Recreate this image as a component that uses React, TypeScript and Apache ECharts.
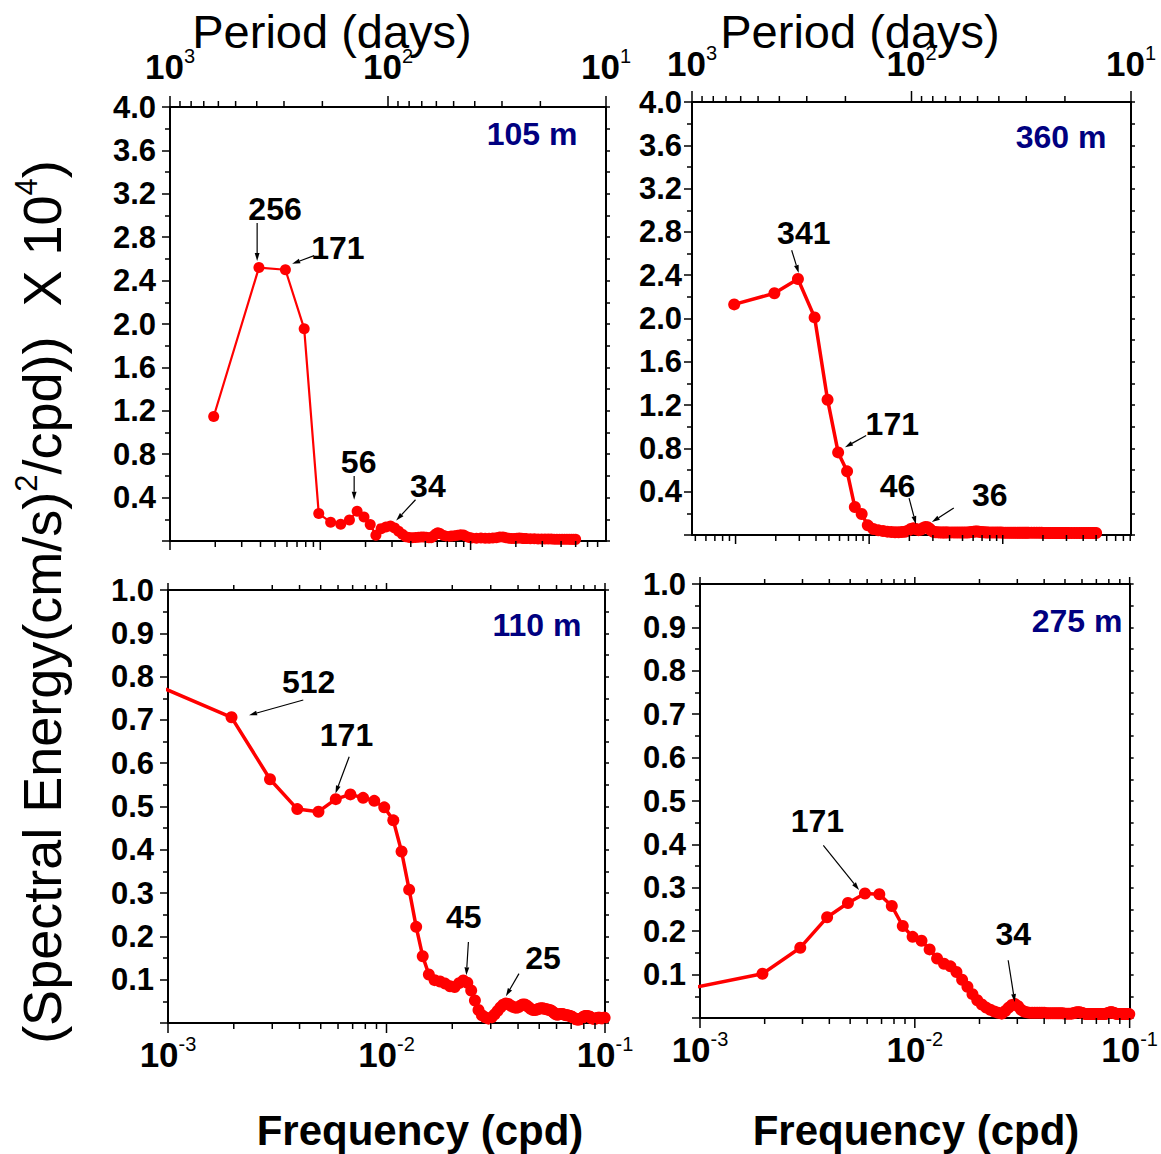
import React, { useEffect, useRef } from "react";
import * as echarts from "echarts";

// Spectral estimates at harmonics k of a 1024-day record: frequency = k / RECORD_DAYS (cpd)
const RECORD_DAYS = 1024;

// ---- 105 m (top-left) ----
const TL_K = [2, 4, 6, 8, 10, 12, 14, 16, 18, 20, 22, 24, 26, 28, 30, 32, 34, 36, 38, 40, 42, 44, 46, 48, 50, 52, 54, 56, 58, 60, 62, 64,
  68, 72, 76, 80, 84, 88, 92, 96, 100, 104,
  112, 120, 128, 136, 144, 152, 160, 168, 176, 184, 192, 200, 208, 216, 224, 232, 240,
  256, 272, 288, 304, 320, 336, 352, 368, 384, 400, 416, 432, 448, 464, 480, 496, 512];
const TL_E = [1.147, 2.52, 2.5, 1.957, 0.253, 0.173, 0.154, 0.194, 0.274, 0.222, 0.151, 0.052, 0.114, 0.13, 0.139, 0.12, 0.09, 0.062, 0.04, 0.032, 0.03, 0.032, 0.035, 0.037, 0.036, 0.034, 0.03, 0.03, 0.045, 0.065, 0.075, 0.068,
  0.05, 0.042, 0.045, 0.048, 0.052, 0.058, 0.055, 0.042, 0.033, 0.028,
  0.026, 0.027, 0.025, 0.026, 0.028, 0.03, 0.036, 0.038, 0.03, 0.025, 0.024, 0.023, 0.026, 0.028, 0.025, 0.022, 0.022,
  0.02, 0.02, 0.019, 0.019, 0.018, 0.018, 0.018, 0.017, 0.017, 0.017, 0.016, 0.016, 0.016, 0.016, 0.015, 0.015, 0.015];

// ---- 360 m (top-right) ----
const TR_K = [1, 2, 3, 4, 5, 6, 7, 8, 9, 10, 11, 12, 13, 14, 15, 16, 17, 18, 19, 20, 21, 22, 23, 24, 25, 26, 27, 28, 29, 30, 31, 32, 33, 34, 35, 36, 37, 38, 39, 40,
  42, 44, 46, 48, 50, 52, 54, 56, 58, 60, 62, 64, 66, 68, 70, 72, 74, 76, 78, 80,
  84, 88, 92, 96, 100, 104, 108, 112, 116, 120, 124, 128, 132, 136, 140, 144, 148, 152, 156, 160,
  168, 176, 184, 192, 200, 208, 216, 224, 232, 240, 248, 256, 264, 272, 280, 288, 296, 304, 312, 320,
  336, 352, 368, 384, 400, 416, 432, 448, 464, 480, 496, 512];
const TR_E = [2.13, 2.233, 2.365, 2.01, 1.25, 0.763, 0.588, 0.258, 0.194, 0.089, 0.055, 0.043, 0.037, 0.031, 0.028, 0.026, 0.026, 0.027, 0.03, 0.04, 0.055, 0.062, 0.055, 0.045, 0.05, 0.065, 0.075, 0.072, 0.058, 0.04, 0.03, 0.026,
  0.025, 0.024, 0.024, 0.023, 0.023, 0.023, 0.024, 0.024,
  0.024, 0.023, 0.023, 0.022, 0.022, 0.022, 0.022, 0.023, 0.025, 0.028, 0.03, 0.032, 0.033, 0.031, 0.028, 0.026, 0.025, 0.024, 0.024, 0.023,
  0.023, 0.022, 0.022, 0.022, 0.022, 0.021, 0.021, 0.021, 0.021, 0.021, 0.021, 0.021, 0.02, 0.02, 0.02, 0.02, 0.02, 0.02, 0.02, 0.02,
  0.02, 0.02, 0.02, 0.02, 0.02, 0.019, 0.019, 0.019, 0.019, 0.019, 0.019, 0.019, 0.019, 0.019, 0.019, 0.019, 0.019, 0.019, 0.019, 0.019,
  0.019, 0.019, 0.019, 0.019, 0.018, 0.018, 0.018, 0.018, 0.018, 0.018, 0.018, 0.018];

// ---- 110 m (bottom-left) and 275 m (bottom-right) share harmonics 1..102 ----
const BOTTOM_K = [1, 2, 3, 4, 5, 6, 7, 8, 9, 10, 11, 12, 13, 14, 15, 16, 17, 18, 19, 20, 21, 22, 23, 24, 25, 26, 27, 28, 29, 30,
  31, 32, 33, 34, 35, 36, 37, 38, 39, 40, 41, 42, 43, 44, 45, 46, 47, 48, 49, 50, 51, 52, 53, 54, 55, 56, 57, 58, 59, 60,
  61, 62, 63, 64, 65, 66, 67, 68, 69, 70, 71, 72, 73, 74, 75, 76, 77, 78, 79, 80, 81, 82, 83, 84, 85, 86, 87, 88, 89, 90,
  91, 92, 93, 94, 95, 96, 97, 98, 99, 100, 101, 102];
const BL_E = [0.771, 0.706, 0.563, 0.494, 0.488, 0.517, 0.528, 0.52, 0.513, 0.498, 0.468, 0.396, 0.308, 0.222, 0.154, 0.112, 0.099, 0.096, 0.091, 0.085, 0.083, 0.092, 0.098, 0.093, 0.075, 0.052, 0.03, 0.018, 0.013, 0.01, 0.013, 0.02,
  0.028, 0.036, 0.042, 0.045, 0.044, 0.04, 0.037, 0.035, 0.036, 0.04,
  0.043, 0.043, 0.04, 0.036, 0.032, 0.03, 0.03, 0.031, 0.033, 0.034,
  0.034, 0.033, 0.032, 0.031, 0.03, 0.029, 0.026, 0.023, 0.02, 0.019,
  0.02, 0.021, 0.021, 0.02, 0.019, 0.018, 0.018, 0.017, 0.016, 0.015,
  0.013, 0.011, 0.009, 0.008, 0.008, 0.008, 0.009, 0.011, 0.013, 0.015,
  0.016, 0.016, 0.016, 0.015, 0.015, 0.013, 0.011, 0.01, 0.01, 0.01,
  0.01, 0.011, 0.012, 0.012, 0.012, 0.011, 0.011, 0.011, 0.012, 0.012];
const BR_E = [0.072, 0.102, 0.162, 0.232, 0.265, 0.287, 0.285, 0.258, 0.212, 0.187, 0.178, 0.158, 0.137, 0.125, 0.119, 0.106, 0.088, 0.072, 0.055, 0.041, 0.031, 0.024, 0.019, 0.015, 0.012, 0.01, 0.016, 0.024, 0.03, 0.032, 0.027, 0.019, 0.015,
  0.013, 0.012, 0.012, 0.012, 0.012, 0.012, 0.012, 0.012, 0.011, 0.011,
  0.011, 0.011, 0.011, 0.011, 0.011, 0.011, 0.011, 0.01, 0.01, 0.01,
  0.01, 0.01, 0.011, 0.012, 0.013, 0.013, 0.013, 0.012, 0.011, 0.01,
  0.009, 0.009, 0.009, 0.009, 0.009, 0.009, 0.009, 0.009, 0.009, 0.009,
  0.009, 0.009, 0.009, 0.009, 0.009, 0.01, 0.01, 0.011, 0.012, 0.013,
  0.013, 0.013, 0.012, 0.011, 0.01, 0.01, 0.009, 0.009, 0.009, 0.009,
  0.009, 0.009, 0.009, 0.009, 0.009, 0.009, 0.009, 0.009, 0.009];

// Period annotations: text anchor, arrow start, arrow tip (frequency cpd, energy)
const TL_NOTES = [
  { text: "256", label: [5.0e-3, 3.06], from: [3.8e-3, 2.93], to: [3.8e-3, 2.58] },
  { text: "171", label: [1.31e-2, 2.7], from: [9.1e-3, 2.63], to: [6.5e-3, 2.555] },
  { text: "56", label: [1.8e-2, 0.73], from: [1.68e-2, 0.6], to: [1.68e-2, 0.38] },
  { text: "34", label: [5.2e-2, 0.51], from: [4.3e-2, 0.38], to: [3.2e-2, 0.19] },
];
const TR_NOTES = [
  { text: "341", label: [3.24e-3, 2.79], from: [2.63e-3, 2.63], to: [2.97e-3, 2.42] },
  { text: "171", label: [1.49e-2, 1.03], from: [9.5e-3, 0.92], to: [6.6e-3, 0.81] },
  { text: "46", label: [1.63e-2, 0.45], from: [1.99e-2, 0.34], to: [2.24e-2, 0.1] },
  { text: "36", label: [8.0e-2, 0.37], from: [4.3e-2, 0.25], to: [2.95e-2, 0.12] },
];
const BL_NOTES = [
  { text: "512", label: [4.4e-3, 0.788], from: [4.16e-3, 0.746], to: [2.35e-3, 0.711] },
  { text: "171", label: [6.56e-3, 0.665], from: [6.75e-3, 0.615], to: [5.84e-3, 0.53] },
  { text: "45", label: [2.26e-2, 0.245], from: [2.37e-2, 0.187], to: [2.32e-2, 0.11] },
  { text: "25", label: [5.2e-2, 0.149], from: [4.04e-2, 0.114], to: [3.52e-2, 0.062] },
];
const BR_NOTES = [
  { text: "171", label: [3.52e-3, 0.454], from: [3.75e-3, 0.398], to: [5.5e-3, 0.295] },
  { text: "34", label: [2.87e-2, 0.194], from: [2.72e-2, 0.133], to: [2.92e-2, 0.037] },
];

const DEPTHS = ["105 m", "360 m", "110 m", "275 m"];

// axis ranges
const TL_FREQ = [1e-3, 0.796];
const TR_FREQ = [4.72e-4, 0.912];
const BOTTOM_FREQ = [1e-3, 1e-1];
const PERIOD = [10, 1000];

const FONT = "'Liberation Sans', Arial, Helvetica, sans-serif";
const RED = "#ff0000";

function decadeTicks(min: number, max: number) {
  const out: number[][] = [];
  const e0 = Math.floor(Math.log10(min));
  const e1 = Math.ceil(Math.log10(max));
  for (let e = e0; e <= e1; e++) {
    for (let m = 1; m <= 9; m++) {
      const v = m * Math.pow(10, e);
      if (v >= min * (1 - 1e-9) && v <= max * (1 + 1e-9)) out.push([v, m === 1 ? 1 : 0]);
    }
  }
  return out;
}

function toPairs(ks: number[], es: number[]) {
  return ks.map((k, i) => [k / RECORD_DAYS, es[i]]);
}

function buildOption() {
  const grids = [
    { left: 170, top: 107, width: 436, height: 434 },
    { left: 692, top: 102, width: 439, height: 433 },
    { left: 168, top: 590, width: 437, height: 433 },
    { left: 700, top: 584, width: 437, height: 434 },
  ];
  const axisLine = { show: true, onZero: false, lineStyle: { color: "#000", width: 2 } };
  const tickStyle = { color: "#000", width: 1.5 };
  const rich = {
    b: { fontSize: 35, fontWeight: "bold", fontFamily: FONT, color: "#000", lineHeight: 40 },
    s: { fontSize: 20, fontFamily: FONT, color: "#000", verticalAlign: "top", lineHeight: 22 },
  };
  const expFormatter = (v: number) => `{b|10}{s|${Math.round(Math.log10(v))}}`;
  const noTick = { show: false };
  const noSplit = { show: false };

  const xAxis = [
    { gridIndex: 0, type: "log", position: "bottom", min: TL_FREQ[0], max: TL_FREQ[1], axisLine, axisTick: noTick, axisLabel: { show: false }, splitLine: noSplit },
    { gridIndex: 0, type: "log", position: "top", inverse: true, min: PERIOD[0], max: PERIOD[1], axisLine, axisTick: noTick, axisLabel: { show: true, interval: 0, showMinLabel: true, showMaxLabel: true, formatter: expFormatter, rich, margin: 21 }, splitLine: noSplit },
    { gridIndex: 1, type: "log", position: "bottom", min: TR_FREQ[0], max: TR_FREQ[1], axisLine, axisTick: noTick, axisLabel: { show: false }, splitLine: noSplit },
    { gridIndex: 1, type: "log", position: "top", inverse: true, min: PERIOD[0], max: PERIOD[1], axisLine, axisTick: noTick, axisLabel: { show: true, interval: 0, showMinLabel: true, showMaxLabel: true, formatter: expFormatter, rich, margin: 19 }, splitLine: noSplit },
    { gridIndex: 2, type: "log", position: "bottom", min: BOTTOM_FREQ[0], max: BOTTOM_FREQ[1], axisLine, axisTick: noTick, axisLabel: { show: true, interval: 0, showMinLabel: true, showMaxLabel: true, formatter: expFormatter, rich, margin: 11 }, splitLine: noSplit },
    { gridIndex: 2, type: "log", position: "top", min: BOTTOM_FREQ[0], max: BOTTOM_FREQ[1], axisLine, axisTick: noTick, axisLabel: { show: false }, splitLine: noSplit },
    { gridIndex: 3, type: "log", position: "bottom", min: BOTTOM_FREQ[0], max: BOTTOM_FREQ[1], axisLine, axisTick: noTick, axisLabel: { show: true, interval: 0, showMinLabel: true, showMaxLabel: true, formatter: expFormatter, rich, margin: 11 }, splitLine: noSplit },
    { gridIndex: 3, type: "log", position: "top", min: BOTTOM_FREQ[0], max: BOTTOM_FREQ[1], axisLine, axisTick: noTick, axisLabel: { show: false }, splitLine: noSplit },
  ];

  const yPair = (g: number, max: number, interval: number, margin: number) => [
    {
      gridIndex: g, type: "value", position: "left", min: 0, max, interval, axisLine,
      axisTick: { show: true, inside: false, length: 8, lineStyle: tickStyle },
      minorTick: { show: true, splitNumber: 2, length: 5, lineStyle: tickStyle },
      axisLabel: { formatter: (v: number) => (v === 0 ? "" : v.toFixed(1)), fontSize: 31, fontWeight: "bold", fontFamily: FONT, color: "#000", margin },
      splitLine: noSplit,
    },
    {
      gridIndex: g, type: "value", position: "right", min: 0, max, interval: interval / 2, axisLine,
      axisTick: { show: true, inside: false, length: 4, lineStyle: tickStyle },
      axisLabel: { show: false }, splitLine: noSplit,
    },
  ];
  const yAxis = [...yPair(0, 4, 0.4, 14), ...yPair(1, 4, 0.4, 10), ...yPair(2, 1, 0.1, 14), ...yPair(3, 1, 0.1, 14)];

  const lineSeries = (data: number[][], xi: number, yi: number, width: number, size: number) => ({
    type: "line", xAxisIndex: xi, yAxisIndex: yi, data, symbol: "circle", symbolSize: size,
    showSymbol: true, showAllSymbol: true, clip: true, z: 3,
    lineStyle: { color: RED, width }, itemStyle: { color: RED, borderWidth: 0 },
  });

  const tickSeries = (ticks: number[][], xi: number, yi: number, edgeY: number, dir: number, majorLen: number, minorLen: number) => ({
    type: "custom", xAxisIndex: xi, yAxisIndex: yi, silent: true, clip: false, z: 5,
    data: ticks.map(([v, major]) => [v, edgeY, major]),
    encode: { x: 0, y: 1 },
    renderItem: (params: any, api: any) => {
      const p = api.coord([api.value(0), api.value(1)]);
      const len = api.value(2) ? majorLen : minorLen;
      return { type: "line", shape: { x1: p[0], y1: p[1], x2: p[0], y2: p[1] + dir * len }, style: { stroke: "#000", lineWidth: 1.5 } };
    },
  });

  const noteSeries = (notes: any[], xi: number, yi: number) => ({
    type: "custom", xAxisIndex: xi, yAxisIndex: yi, silent: true, clip: false, z: 6,
    data: notes.map((n) => [n.label[0], n.label[1], n.from[0], n.from[1], n.to[0], n.to[1]]),
    encode: { x: 0, y: 1 },
    renderItem: (params: any, api: any) => {
      const note = notes[params.dataIndex];
      const t = api.coord([api.value(0), api.value(1)]);
      const a = api.coord([api.value(2), api.value(3)]);
      const b = api.coord([api.value(4), api.value(5)]);
      const dx = b[0] - a[0];
      const dy = b[1] - a[1];
      const len = Math.hypot(dx, dy) || 1;
      const ux = dx / len;
      const uy = dy / len;
      const head = 8;
      const half = 2.4;
      const bx = b[0] - ux * head;
      const by = b[1] - uy * head;
      return {
        type: "group",
        children: [
          { type: "line", shape: { x1: a[0], y1: a[1], x2: bx, y2: by }, style: { stroke: "#000", lineWidth: 1.2 } },
          { type: "polygon", shape: { points: [[b[0], b[1]], [bx - uy * half, by + ux * half], [bx + uy * half, by - ux * half]] }, style: { fill: "#000" } },
          {
            type: "text", x: t[0], y: t[1],
            style: { text: note.text, fill: "#000", fontSize: 32, fontWeight: "bold", fontFamily: FONT, align: "center", verticalAlign: "middle", textAlign: "center", textVerticalAlign: "middle" },
          },
        ],
      };
    },
  });

  const series = [
    lineSeries(toPairs(TL_K, TL_E), 0, 0, 2.2, 11),
    lineSeries(toPairs(TR_K, TR_E), 2, 2, 3.5, 12),
    lineSeries(toPairs(BOTTOM_K, BL_E), 4, 4, 3.5, 12),
    lineSeries(toPairs(BOTTOM_K, BR_E), 6, 6, 3.5, 12),
    // axis minor/major ticks on logarithmic axes
    tickSeries(decadeTicks(TL_FREQ[0], TL_FREQ[1]), 0, 0, 0, 1, 9, 6),
    tickSeries(decadeTicks(PERIOD[0], PERIOD[1]), 1, 0, 4, -1, 11, 6),
    tickSeries(decadeTicks(TR_FREQ[0], TR_FREQ[1]), 2, 2, 0, 1, 9, 6),
    tickSeries(decadeTicks(PERIOD[0], PERIOD[1]), 3, 2, 4, -1, 11, 6),
    tickSeries(decadeTicks(BOTTOM_FREQ[0], BOTTOM_FREQ[1]), 4, 4, 0, 1, 10, 6),
    tickSeries(decadeTicks(BOTTOM_FREQ[0], BOTTOM_FREQ[1]), 4, 4, 1, -1, 7, 5),
    tickSeries(decadeTicks(BOTTOM_FREQ[0], BOTTOM_FREQ[1]), 6, 6, 0, 1, 10, 6),
    tickSeries(decadeTicks(BOTTOM_FREQ[0], BOTTOM_FREQ[1]), 6, 6, 1, -1, 7, 5),
    noteSeries(TL_NOTES, 0, 0),
    noteSeries(TR_NOTES, 2, 2),
    noteSeries(BL_NOTES, 4, 4),
    noteSeries(BR_NOTES, 6, 6),
  ];

  const txt = (x: number, y: number, text: string, extra: any) => ({
    type: "text", x, y, silent: true, z: 10,
    style: { text, fill: "#000", fontFamily: FONT, align: "center", verticalAlign: "middle", textAlign: "center", textVerticalAlign: "middle", ...extra },
  });
  const depthStyle = { fill: "#000080", fontSize: 32, fontWeight: "bold" };

  const graphic = [
    txt(332, 31, "Period (days)", { fontSize: 47 }),
    txt(860, 31, "Period (days)", { fontSize: 47 }),
    txt(420, 1130, "Frequency (cpd)", { fontSize: 42, fontWeight: "bold" }),
    txt(916, 1130, "Frequency (cpd)", { fontSize: 42, fontWeight: "bold" }),
    txt(532, 134, DEPTHS[0], depthStyle),
    txt(1061, 137, DEPTHS[1], depthStyle),
    txt(537, 625, DEPTHS[2], depthStyle),
    txt(1077, 621, DEPTHS[3], depthStyle),
    {
      type: "text", x: 42, y: 602, rotation: Math.PI / 2, silent: true, z: 10,
      style: {
        text: "{a|(Spectral Energy(cm/s)}{s|2}{a|/cpd))  X 10}{s|4}{a|)}",
        align: "center", verticalAlign: "middle", textAlign: "center", textVerticalAlign: "middle",
        rich: {
          a: { fontSize: 54, fontFamily: FONT, fill: "#000", color: "#000", lineHeight: 62 },
          s: { fontSize: 31, fontFamily: FONT, fill: "#000", color: "#000", verticalAlign: "top", lineHeight: 32 },
        },
      },
    },
  ];

  return {
    animation: false,
    backgroundColor: "#ffffff",
    grid: grids,
    xAxis,
    yAxis,
    series,
    graphic,
  };
}

export default function App() {
  const ref = useRef<HTMLDivElement>(null);
  useEffect(() => {
    document.body.style.margin = "0";
    if (!ref.current) return;
    const chart = echarts.init(ref.current, undefined, { renderer: "svg" });
    chart.setOption(buildOption() as any);
    return () => chart.dispose();
  }, []);
  return <div ref={ref} style={{ position: "absolute", left: 0, top: 0, width: 1161, height: 1154, background: "#fff" }} />;
}
